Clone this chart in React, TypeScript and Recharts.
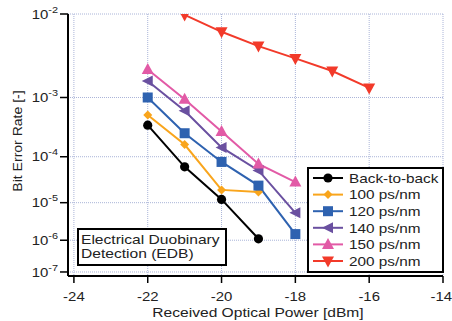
import React from 'react';
import { CartesianGrid, Line, LineChart, XAxis, YAxis } from 'recharts';

// received optical power [dBm] per series
const xB2B = [-22, -21, -20, -19];
const x100 = [-22, -21, -20, -19];
const x120 = [-22, -21, -20, -19, -18];
const x140 = [-22, -21, -20, -19, -18];
const x150 = [-22, -21, -20, -19, -18];
const x200 = [-21, -20, -19, -18, -17, -16];

// bit error rate per series
const berB2B = [3.7e-4, 6.3e-5, 1.2e-5, 1.1e-6];
const ber100 = [5.4e-4, 1.7e-4, 2.0e-5, 1.8e-5];
const ber120 = [1.0e-3, 2.7e-4, 7.9e-5, 2.5e-5, 1.5e-6];
const ber140 = [1.7e-3, 6.3e-4, 1.5e-4, 5.3e-5, 5.6e-6];
const ber150 = [2.4e-3, 9.4e-4, 2.9e-4, 7.2e-5, 3.0e-5];
const ber200 = [9.8e-3, 6.6e-3, 4.6e-3, 3.3e-3, 2.3e-3, 1.37e-3];

const xTicks = [-24, -22, -20, -18, -16, -14];
const yTickExps = [2, 3, 4, 5, 6, 7];

const FONT = '"Liberation Sans", Arial, Helvetica, sans-serif';
const INK = '#222';

type Shape = 'circle' | 'diamond' | 'square' | 'left' | 'up' | 'down';

// BER plots use a -log(-log) style ordinate
const q = (ber: number) => Math.log10(-Math.log10(ber));

function marker(shape: Shape, cx: number, cy: number, color: string, key?: string | number) {
  if (shape === 'circle') return <circle key={key} cx={cx} cy={cy} r={4.6} fill={color} />;
  if (shape === 'diamond')
    return (
      <polygon
        key={key}
        points={`${cx},${cy - 4.5} ${cx + 4.5},${cy} ${cx},${cy + 4.5} ${cx - 4.5},${cy}`}
        fill={color}
      />
    );
  if (shape === 'square') return <rect key={key} x={cx - 5} y={cy - 5} width={10} height={10} fill={color} />;
  if (shape === 'left')
    return (
      <polygon key={key} points={`${cx - 6},${cy} ${cx + 5},${cy - 5.5} ${cx + 5},${cy + 5.5}`} fill={color} />
    );
  if (shape === 'up')
    return (
      <polygon key={key} points={`${cx},${cy - 6.5} ${cx + 6},${cy + 4.5} ${cx - 6},${cy + 4.5}`} fill={color} />
    );
  return <polygon key={key} points={`${cx},${cy + 6.5} ${cx + 6},${cy - 4.5} ${cx - 6},${cy - 4.5}`} fill={color} />;
}

const series: { name: string; xs: number[]; bers: number[]; color: string; shape: Shape }[] = [
  { name: 'Back-to-back', xs: xB2B, bers: berB2B, color: '#000000', shape: 'circle' },
  { name: '100 ps/nm', xs: x100, bers: ber100, color: '#f9a51c', shape: 'diamond' },
  { name: '120 ps/nm', xs: x120, bers: ber120, color: '#2e62b0', shape: 'square' },
  { name: '140 ps/nm', xs: x140, bers: ber140, color: '#6a50a0', shape: 'left' },
  { name: '150 ps/nm', xs: x150, bers: ber150, color: '#e25aa6', shape: 'up' },
  { name: '200 ps/nm', xs: x200, bers: ber200, color: '#f23a2a', shape: 'down' },
];

// the source figure's lettering is a bit wide for its height
function SText({
  x,
  y,
  children,
  anchor = 'start',
  size = 13,
  sx = 1.15,
  rotate = 0,
}: {
  x: number;
  y: number;
  children: React.ReactNode;
  anchor?: 'start' | 'middle' | 'end';
  size?: number;
  sx?: number;
  rotate?: number;
}) {
  return (
    <text
      transform={`translate(${x} ${y}) rotate(${rotate}) scale(${sx} 1)`}
      textAnchor={anchor}
      fontFamily={FONT}
      fontSize={size}
      fill={INK}
    >
      {children}
    </text>
  );
}

function YTick(props: any) {
  const { x, y, index } = props;
  const exp = yTickExps[index];
  return (
    <text
      transform={`translate(${x} ${y + 4.6}) scale(1.15 1)`}
      textAnchor="end"
      fontFamily={FONT}
      fontSize={13}
      fill={INK}
    >
      <tspan>10</tspan>
      <tspan dy={-6} fontSize={9.5}>
        -{exp}
      </tspan>
    </text>
  );
}

function XTick(props: any) {
  const { x, y, payload } = props;
  return (
    <SText x={x} y={y + 10} anchor="middle">
      {String(payload.value)}
    </SText>
  );
}

export default function App() {
  const yDomain: [number, number] = [q(1e-2), q(1e-7) + 0.0085];

  return (
    <div style={{ position: 'absolute', left: 0, top: 0, width: 452, height: 321, background: '#fff' }}>
      <LineChart width={452} height={321} margin={{ top: 14, right: 9, bottom: 0, left: 8 }}>
        <CartesianGrid stroke="#aab4d8" strokeDasharray="1 1" strokeWidth={1} />
        <XAxis
          type="number"
          dataKey="x"
          domain={[-24.16, -14]}
          ticks={xTicks}
          allowDataOverflow
          height={45}
          tickSize={7}
          tickMargin={8}
          axisLine={{ stroke: '#000', strokeWidth: 2 }}
          tickLine={{ stroke: '#000', strokeWidth: 1.5 }}
          tick={<XTick />}
        />
        <YAxis
          type="number"
          dataKey="y"
          domain={yDomain}
          ticks={yTickExps.map((e) => q(Math.pow(10, -e)))}
          reversed
          allowDataOverflow
          width={60}
          tickSize={8}
          axisLine={{ stroke: '#000', strokeWidth: 2 }}
          tickLine={{ stroke: '#000', strokeWidth: 1.5 }}
          tick={<YTick />}
        />
        {series.map((s) => (
          <Line
            key={s.name}
            name={s.name}
            data={s.xs.map((x, i) => ({ x, y: q(s.bers[i]) }))}
            dataKey="y"
            stroke={s.color}
            strokeWidth={2}
            isAnimationActive={false}
            dot={(p: any) => marker(s.shape, p.cx, p.cy, s.color, `${s.name}-${p.index}`)}
            activeDot={false}
          />
        ))}
      </LineChart>

      <svg
        width={452}
        height={321}
        style={{ position: 'absolute', left: 0, top: 0, pointerEvents: 'none' }}
      >
        <SText x={258} y={317} anchor="middle" sx={1.2}>
          Received Optical Power [dBm]
        </SText>
        <SText x={22} y={141} anchor="middle" rotate={-90} sx={1.08}>
          Bit Error Rate [-]
        </SText>

        <rect x={78} y={229} width={148} height={36} fill="#fff" stroke="#000" strokeWidth={2} />
        <SText x={81} y={243.5} sx={1.2}>
          Electrical Duobinary
        </SText>
        <SText x={81} y={257.7} sx={1.2}>
          Detection (EDB)
        </SText>

        <rect x={308} y={168} width={135} height={104} fill="#fff" stroke="#000" strokeWidth={2} />
        {series.map((s, i) => {
          const cy = 178 + i * 16.6;
          return (
            <g key={s.name}>
              <line x1={313} x2={343} y1={cy} y2={cy} stroke={s.color} strokeWidth={2} />
              {marker(s.shape, 328, cy, s.color)}
              <SText x={349} y={cy + 4.7} sx={1.18}>
                {s.name}
              </SText>
            </g>
          );
        })}
      </svg>
    </div>
  );
}
